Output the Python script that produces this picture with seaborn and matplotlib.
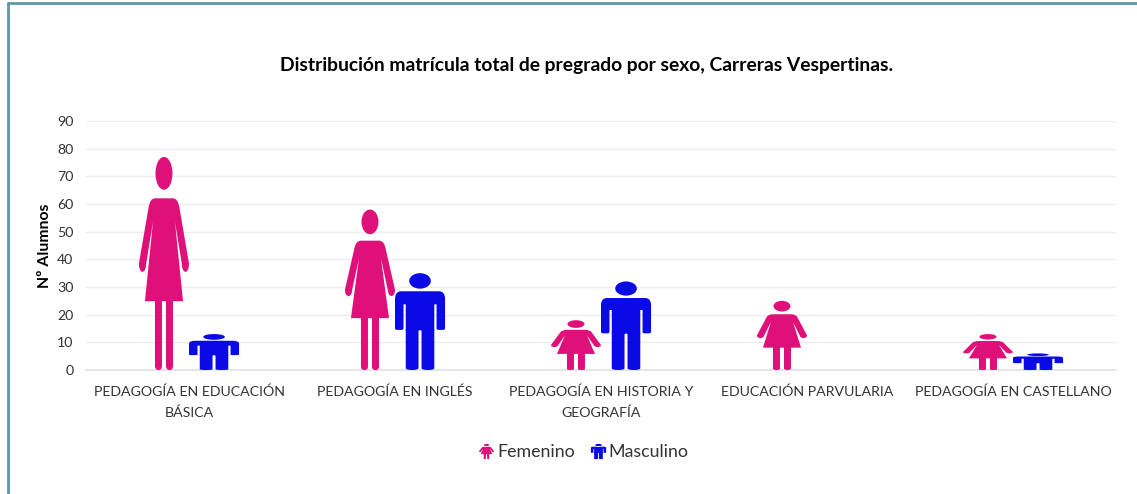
# Pictogram bar chart: enrolment by sex, evening programmes
import pandas as pd
import matplotlib
matplotlib.use("Agg")
import matplotlib.pyplot as plt
import seaborn as sns
from matplotlib.lines import Line2D
from matplotlib.patches import PathPatch
from matplotlib.path import Path
from matplotlib.transforms import Affine2D

carreras = ["PEDAGOGÍA EN EDUCACIÓN\nBÁSICA", "PEDAGOGÍA EN INGLÉS",
            "PEDAGOGÍA EN HISTORIA Y\nGEOGRAFÍA", "EDUCACIÓN PARVULARIA",
            "PEDAGOGÍA EN CASTELLANO"]
femenino = [77, 58, 18, 25, 13]
masculino = [13, 35, 32, 0, 6]
yticks = list(range(0, 100, 10))

ROSA = "#e0107a"
AZUL = "#0a0ae6"


def poly(pts):
    # pts are (x, y) or (x, y, "c") where "c" marks a quadratic control point
    verts, codes = [], []
    for i, p in enumerate(pts):
        verts.append(p[:2])
        if i == 0:
            codes.append(Path.MOVETO)
        elif len(p) == 3 or (len(pts[i - 1]) == 3):
            codes.append(Path.CURVE3)
        else:
            codes.append(Path.LINETO)
    verts.append(pts[0][:2])
    codes.append(Path.CLOSEPOLY)
    return Path(verts, codes)


def head(cy, rx, ry):
    return Path.unit_circle().transformed(Affine2D().scale(rx, ry).translate(0, cy))


def leg(x0, x1, top):
    mid = (x0 + x1) / 2
    return poly([(x0, top), (x1, top), (x1, 0.02), (x1, 0, "c"), (mid, 0),
                 (x0, 0, "c"), (x0, 0.02)])


# unit shapes, x from -0.5 to 0.5 and y from 0 to 1
cuerpo_f = poly([(-0.18, 0.806), (0.18, 0.806), (0.28, 0.806, "c"), (0.31, 0.76),
                 (0.50, 0.50), (0.50, 0.465, "c"), (0.43, 0.46), (0.36, 0.465, "c"), (0.355, 0.50),
                 (0.22, 0.695), (0.38, 0.323), (-0.38, 0.323), (-0.22, 0.695),
                 (-0.355, 0.50), (-0.36, 0.465, "c"), (-0.43, 0.46), (-0.50, 0.465, "c"), (-0.50, 0.50),
                 (-0.31, 0.76), (-0.28, 0.806, "c"), (-0.18, 0.806)])
mujer = Path.make_compound_path(
    head(0.923, 0.17, 0.077), cuerpo_f, leg(-0.18, -0.04, 0.33), leg(0.04, 0.18, 0.33))

torso_m = poly([(-0.38, 0.813), (0.38, 0.813), (0.50, 0.813, "c"), (0.50, 0.73),
                (0.50, 0.43), (0.50, 0.414, "c"), (0.46, 0.414), (0.37, 0.414), (0.33, 0.414, "c"), (0.33, 0.43),
                (0.33, 0.678), (0.285, 0.678), (0.285, 0.41),
                (-0.285, 0.41), (-0.285, 0.678), (-0.33, 0.678),
                (-0.33, 0.43), (-0.33, 0.414, "c"), (-0.37, 0.414), (-0.46, 0.414), (-0.50, 0.414, "c"), (-0.50, 0.43),
                (-0.50, 0.73), (-0.50, 0.813, "c"), (-0.38, 0.813)])
hombre = Path.make_compound_path(
    head(0.92, 0.216, 0.08), torso_m, leg(-0.285, -0.03, 0.42), leg(0.03, 0.285, 0.42))

df = pd.DataFrame({
    "Carrera": carreras * 2,
    "Sexo": ["Femenino"] * len(carreras) + ["Masculino"] * len(carreras),
    "Alumnos": femenino + masculino,
})

sns.set_theme(style="white")
plt.rcParams["font.family"] = ["Lato", "DejaVu Sans"]

fig = plt.figure(figsize=(11.37, 4.94), dpi=100)
ax = fig.add_axes([86 / 1137, 1 - 370 / 494, 1030 / 1137, 249 / 494])
sns.barplot(data=df, x="Carrera", y="Alumnos", hue="Sexo", order=carreras,
            palette={"Femenino": ROSA, "Masculino": AZUL}, width=0.486, legend=False, ax=ax)

# swap every bar for a figure stretched to the bar's box
for container, forma, color in zip(ax.containers, [mujer, hombre], [ROSA, AZUL]):
    for bar in container:
        bar.set_visible(False)
        if bar.get_height() <= 0:
            continue
        t = Affine2D().scale(bar.get_width(), bar.get_height()).translate(bar.get_x() + bar.get_width() / 2, 0)
        ax.add_patch(PathPatch(forma.transformed(t), facecolor=color, edgecolor="none", zorder=3))

ax.set_ylim(0, 90)
ax.set_yticks(yticks)
ax.set_xlim(-0.5, len(carreras) - 0.5)
ax.grid(axis="y", color="#eeeeee", linewidth=1)
ax.set_axisbelow(True)
sns.despine(ax=ax, left=True, top=True, right=True)
ax.spines["bottom"].set_color("#e2e2e2")
ax.tick_params(axis="both", length=0, labelsize=10.2, labelcolor="#333333")
ax.tick_params(axis="x", pad=11)
ax.tick_params(axis="y", pad=9)
for lab in ax.get_xticklabels():
    lab.set_linespacing(1.85)
ax.set_xlabel("")
ax.set_ylabel("Nº Alumnos", fontsize=11.3, fontweight="bold", color="black")
ax.yaxis.set_label_coords(-34 / 1030, 0.5)

fig.text(586.5 / 1137, 1 - 66 / 494, "Distribución matrícula total de pregrado por sexo, Carreras Vespertinas.",
         ha="center", va="center", fontsize=13.85, fontweight="bold", color="black")

handles = [
    Line2D([], [], linestyle="none", marker=mujer.transformed(Affine2D().translate(0, -0.5)),
           markersize=11, color=ROSA, markeredgewidth=0, label="Femenino"),
    Line2D([], [], linestyle="none", marker=hombre.transformed(Affine2D().translate(0, -0.5)),
           markersize=11, color=AZUL, markeredgewidth=0, label="Masculino"),
]
fig.legend(handles=handles, loc="center", bbox_to_anchor=(583 / 1137, 1 - 452 / 494), ncol=2,
           frameon=False, fontsize=12.8, labelcolor="#333333", handletextpad=0.1,
           columnspacing=0.8, handlelength=1.0)

# teal frame, only top and left fall inside the crop
marco = {"color": "#5f97a5", "linewidth": 2, "transform": fig.transFigure}
fig.add_artist(Line2D([8 / 1137, 8 / 1137], [0, 1 - 3 / 494], **marco))
fig.add_artist(Line2D([8 / 1137, 1], [1 - 3 / 494, 1 - 3 / 494], **marco))

fig.savefig("out.png", dpi=100)
